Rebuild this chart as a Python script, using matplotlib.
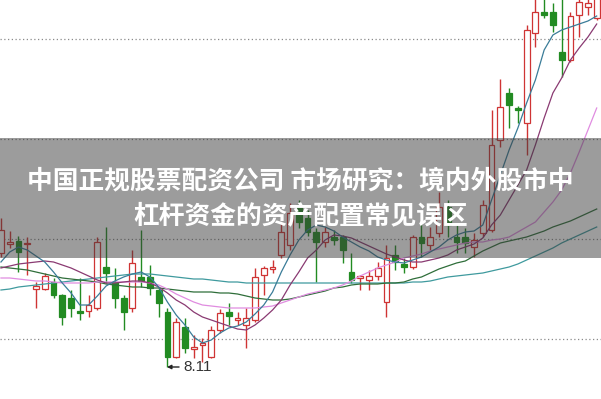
import matplotlib.pyplot as plt
from matplotlib.patches import Rectangle
import numpy as np

# daily candles (price)
opens = [9.25, 9.34, 9.37, 9.34, 8.89, 8.89, 8.96, 8.83, 8.80, 8.67,
         8.67, 8.70, 9.11, 8.96, 8.80, 8.70, 9.01, 9.01, 8.88, 8.66,
         8.21, 8.51, 8.29, 8.33, 8.21, 8.48, 8.66, 8.58, 8.53, 8.58,
         9.03, 9.09, 9.23, 9.33, 9.73, 9.60, 9.46, 9.36, 9.41, 9.41,
         9.06, 9.00, 8.98, 9.02, 8.76, 9.23, 9.14, 9.11, 9.41, 9.33,
         9.45, 9.71, 9.41, 9.41, 9.31, 9.45, 9.48, 10.38, 10.85, 10.70,
         10.55, 11.45, 11.66, 11.66, 11.26, 11.18, 11.63, 11.71, 11.60]
highs = [9.60, 9.47, 9.42, 9.41, 8.96, 9.05, 9.00, 8.84, 8.88, 9.00,
         8.83, 9.41, 9.51, 9.10, 8.83, 9.28, 9.48, 9.13, 8.91, 8.70,
         8.60, 8.60, 8.43, 8.40, 8.52, 8.69, 8.75, 8.66, 8.70, 9.10,
         9.12, 9.18, 9.56, 9.75, 9.78, 9.68, 9.50, 9.51, 9.48, 9.43,
         9.25, 9.03, 9.08, 9.16, 9.33, 9.33, 9.20, 9.43, 9.55, 9.51,
         9.86, 9.78, 9.55, 9.50, 9.45, 9.78, 10.68, 10.99, 10.90, 10.72,
         11.53, 11.83, 11.81, 11.75, 11.88, 11.66, 11.81, 11.81, 11.86]
lows = [9.21, 9.30, 9.06, 9.03, 8.70, 8.88, 8.80, 8.53, 8.61, 8.58,
        8.61, 8.68, 8.95, 8.70, 8.48, 8.66, 8.91, 8.83, 8.61, 8.11,
        8.20, 8.25, 8.20, 8.16, 8.20, 8.45, 8.53, 8.53, 8.30, 8.56,
        8.83, 9.05, 9.20, 9.28, 9.50, 9.42, 8.96, 9.31, 9.33, 9.15,
        8.95, 8.88, 8.88, 8.98, 8.61, 9.08, 9.05, 9.09, 9.21, 9.28,
        9.41, 9.41, 9.25, 9.25, 9.21, 9.41, 9.46, 10.31, 10.50, 10.55,
        10.23, 11.31, 11.60, 11.46, 11.01, 11.16, 11.41, 11.63, 11.58]
closes = [9.48, 9.36, 9.26, 9.35, 8.92, 9.02, 8.83, 8.61, 8.70, 8.65,
          8.73, 9.36, 9.05, 8.80, 8.66, 9.15, 8.97, 8.90, 8.75, 8.21,
          8.56, 8.30, 8.31, 8.35, 8.48, 8.65, 8.62, 8.60, 8.60, 9.01,
          9.10, 9.11, 9.46, 9.65, 9.56, 9.46, 9.36, 9.46, 9.38, 9.28,
          8.98, 9.02, 9.02, 9.10, 9.20, 9.16, 9.11, 9.41, 9.35, 9.41,
          9.71, 9.53, 9.36, 9.35, 9.38, 9.73, 10.33, 10.71, 10.73, 10.68,
          11.48, 11.66, 11.63, 11.53, 11.18, 11.62, 11.76, 11.75, 11.80]

# moving averages as drawn on the chart
ma5 = [9.16, 9.26, 9.31, 9.28, 9.22, 9.16, 9.06, 8.95, 8.85, 8.73,
       8.73, 8.82, 8.92, 8.97, 9.01, 9.04, 9.06, 9.01, 8.91, 8.76,
       8.63, 8.53, 8.41, 8.35, 8.38, 8.45, 8.50, 8.52, 8.56, 8.64,
       8.73, 8.86, 9.06, 9.23, 9.38, 9.48, 9.53, 9.51, 9.47, 9.41,
       9.36, 9.31, 9.27, 9.21, 9.18, 9.16, 9.15, 9.18, 9.21, 9.26,
       9.31, 9.38, 9.43, 9.46, 9.47, 9.53, 9.78, 10.03, 10.28, 10.50,
       10.75, 10.98, 11.28, 11.43, 11.48, 11.51, 11.54, 11.57, 11.62]
ma10 = [9.10, 9.12, 9.14, 9.15, 9.16, 9.17, 9.16, 9.13, 9.10, 9.06,
        9.02, 8.98, 8.95, 8.95, 8.96, 8.97, 8.97, 8.95, 8.91, 8.85,
        8.78, 8.73, 8.66, 8.61, 8.58, 8.55, 8.52, 8.49, 8.48, 8.53,
        8.60, 8.68, 8.78, 8.93, 9.06, 9.20, 9.28, 9.38, 9.43, 9.42,
        9.40, 9.36, 9.32, 9.28, 9.24, 9.21, 9.18, 9.16, 9.16, 9.18,
        9.20, 9.23, 9.28, 9.31, 9.34, 9.40, 9.53, 9.63, 9.78, 9.93,
        10.08, 10.33, 10.60, 10.85, 11.00, 11.18, 11.30, 11.41, 11.54]
ma20 = [9.00, 9.00, 8.99, 8.98, 8.97, 8.97, 8.96, 8.95, 8.95, 8.95,
        8.95, 8.96, 8.96, 8.96, 8.96, 8.96, 8.96, 8.95, 8.93, 8.89,
        8.84, 8.80, 8.76, 8.73, 8.72, 8.71, 8.70, 8.70, 8.70, 8.70,
        8.71, 8.72, 8.75, 8.78, 8.81, 8.84, 8.86, 8.88, 8.90, 8.93,
        8.97, 9.02, 9.06, 9.10, 9.13, 9.16, 9.20, 9.22, 9.24, 9.27,
        9.29, 9.31, 9.33, 9.35, 9.36, 9.36, 9.38, 9.39, 9.41, 9.46,
        9.51, 9.56, 9.66, 9.76, 9.88, 10.05, 10.26, 10.48, 10.70]
ma30 = [9.11, 9.10, 9.09, 9.08, 9.06, 9.04, 9.02, 9.00, 8.99, 8.98,
        8.97, 8.96, 8.94, 8.93, 8.92, 8.91, 8.91, 8.90, 8.90, 8.89,
        8.88, 8.87, 8.86, 8.86, 8.86, 8.85, 8.85, 8.84, 8.82, 8.80,
        8.79, 8.78, 8.78, 8.79, 8.81, 8.83, 8.85, 8.87, 8.90, 8.91,
        8.93, 8.94, 8.94, 8.94, 8.95, 8.95, 8.96, 8.99, 9.01, 9.05,
        9.09, 9.12, 9.15, 9.17, 9.22, 9.27, 9.31, 9.35, 9.37, 9.39,
        9.41, 9.44, 9.47, 9.51, 9.54, 9.57, 9.61, 9.65, 9.69]
ma60 = [8.88, 8.89, 8.91, 8.92, 8.93, 8.94, 8.95, 8.96, 8.97, 8.98,
        8.99, 9.00, 9.01, 9.02, 9.03, 9.04, 9.04, 9.04, 9.03, 9.02,
        9.01, 9.00, 8.99, 8.99, 8.98, 8.97, 8.96, 8.96, 8.95, 8.95,
        8.95, 8.95, 8.95, 8.95, 8.95, 8.95, 8.95, 8.95, 8.95, 8.95,
        8.95, 8.95, 8.95, 8.95, 8.95, 8.95, 8.95, 8.96, 8.96, 8.97,
        8.99, 9.01, 9.02, 9.03, 9.04, 9.05, 9.07, 9.09, 9.11, 9.14,
        9.18, 9.22, 9.26, 9.30, 9.35, 9.39, 9.43, 9.47, 9.51]

grid_levels = [8.39, 9.39, 10.39, 11.39]
low_idx = 19
low_text = '8.11'
title_lines = ['中国正规股票配资公司 市场研究：境内外股市中',
               '杠杆资金的资产配置常见误区']

RED = '#cf3434'
GREEN = '#228b22'

fig = plt.figure(figsize=(6.01, 3.99), dpi=100)
ax = fig.add_axes([0, 0, 1, 1])
ax.set_xlim(-0.11, 68.49)
ax.set_ylim(7.79, 11.78)
ax.set_axis_off()

for g in grid_levels:
    ax.axhline(g, color='#8a8a8a', lw=0.9, ls=(0, (1, 2)), zorder=1)

o = np.array(opens)
c = np.array(closes)
h = np.array(highs)
l = np.array(lows)
x = np.arange(len(o))
up = c >= o
cols = np.where(up, RED, GREEN)

ax.vlines(x, l, h, colors=cols, lw=1.0, zorder=2)
body_h = np.maximum(np.abs(c - o), 0.012)
body_b = np.minimum(o, c)
ax.bar(x[up], body_h[up], bottom=body_b[up], width=0.66,
       facecolor='white', edgecolor=RED, lw=0.9, zorder=3)
ax.bar(x[~up], body_h[~up], bottom=body_b[~up], width=0.66,
       facecolor=GREEN, edgecolor=GREEN, lw=0.9, zorder=3)

ax.plot(x, ma60, color='#3f9a9e', lw=0.9, zorder=4)
ax.plot(x, ma30, color='#2f6e3a', lw=0.9, zorder=4)
ax.plot(x, ma20, color='#e08ce0', lw=0.9, zorder=4)
ax.plot(x, ma10, color='#8a3a72', lw=0.9, zorder=4)
ax.plot(x, ma5, color='#3a7c98', lw=0.9, zorder=4)

ax.annotate(low_text, xy=(low_idx - 0.05, lows[low_idx]),
            xytext=(low_idx + 1.8, lows[low_idx]),
            va='center', ha='left', fontsize=11, color='#333333',
            family='Liberation Sans',
            arrowprops=dict(arrowstyle='-|>', color='#222222', lw=1,
                            mutation_scale=6, shrinkA=1, shrinkB=0),
            zorder=6)

# grey title banner
fig.add_artist(Rectangle((0, 141 / 399), 1, 120 / 399, transform=fig.transFigure,
                         facecolor='#3a3a3a', alpha=0.5, edgecolor='none', zorder=10))
fig.text(0.5, 1 - 181 / 399, title_lines[0], ha='center', va='center',
         color='white', fontsize=18.5, fontweight='bold',
         family=['Noto Sans CJK SC', 'DejaVu Sans'], zorder=11)
fig.text(0.5, 1 - 216 / 399, title_lines[1], ha='center', va='center',
         color='white', fontsize=18.5, fontweight='bold',
         family=['Noto Sans CJK SC', 'DejaVu Sans'], zorder=11)

fig.savefig('out.png', dpi=100)
